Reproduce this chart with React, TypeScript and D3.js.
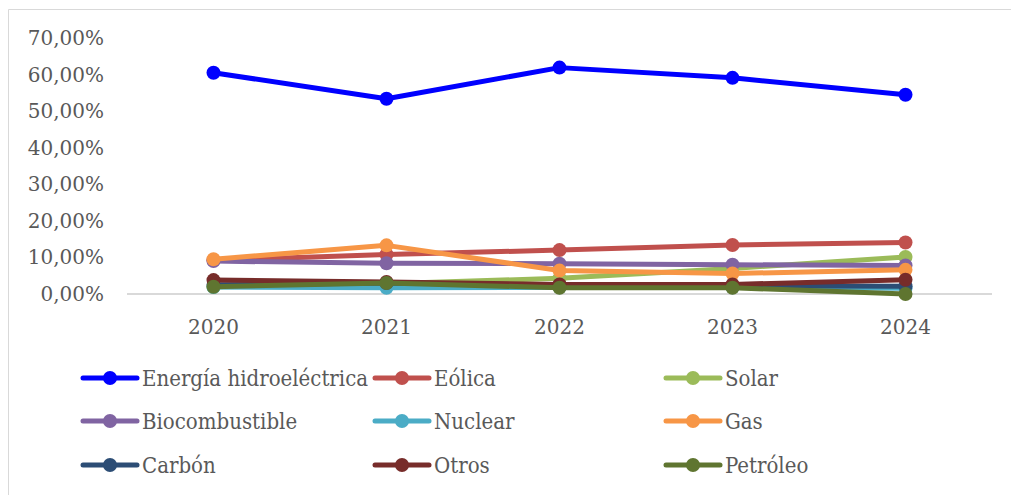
import React from 'react';
import * as d3 from 'd3';

const years = ['2020', '2021', '2022', '2023', '2024'];
const seriesNames = [
    'Energía hidroeléctrica', 'Eólica', 'Solar',
    'Biocombustible', 'Nuclear', 'Gas',
    'Carbón', 'Otros', 'Petróleo',
];
const hidro = [60.5, 53.4, 61.9, 59.1, 54.5];
const eolica = [9.2, 10.8, 12.0, 13.4, 14.1];
const solar = [1.9, 2.8, 4.3, 7.0, 10.1];
const biocombustible = [9.0, 8.4, 8.3, 8.0, 7.8];
const nuclear = [1.9, 1.7, 1.8, 1.8, 1.6];
const gas = [9.5, 13.3, 6.4, 5.6, 6.6];
const carbon = [2.5, 3.0, 2.4, 2.3, 2.1];
const otros = [3.8, 3.3, 2.6, 2.6, 3.9];
const petroleo = [2.0, 3.0, 1.7, 1.7, 0.0];
const yTicks = [0, 10, 20, 30, 40, 50, 60, 70];

const allValues = [hidro, eolica, solar, biocombustible, nuclear, gas, carbon, otros, petroleo];
const colors = ['#0000FF', '#C0504D', '#9BBB59', '#8064A2', '#4BACC6', '#F79646', '#2C4D75', '#772C2A', '#5F7530'];

const W = 1011, H = 495;
const font = '"DejaVu Serif", serif';
const textColor = '#595959';

export default function App() {
    const x = d3.scaleBand().domain(years).range([127, 992]);
    const y = d3.scaleLinear().domain([0, 70]).range([294, 38]);
    const line = d3.line<number>()
        .x((d, i) => x(years[i])! + x.bandwidth() / 2)
        .y(d => y(d));

    const legendCols = [83, 375, 666];
    const legendRows = [378, 421, 465];

    return (
        <svg width={W} height={H} style={{ position: 'absolute', left: 0, top: 0 }}>
            <rect x={0} y={0} width={W} height={H} fill="#fff" />
            <line x1={8.5} y1={9.5} x2={W} y2={9.5} stroke="#d9d9d9" />
            <line x1={8.5} y1={9.5} x2={8.5} y2={H} stroke="#d9d9d9" />
            {yTicks.map(t => (
                <text key={t} x={104} y={y(t)} dy="0.35em" textAnchor="end"
                    fontFamily={font} fontSize={20} fill={textColor}>
                    {d3.format('.2f')(t).replace('.', ',') + '%'}
                </text>
            ))}
            <line x1={127} x2={992} y1={y(0)} y2={y(0)} stroke="#d9d9d9" strokeWidth={2} />
            {years.map(yr => (
                <text key={yr} x={x(yr)! + x.bandwidth() / 2} y={334} textAnchor="middle"
                    fontFamily={font} fontSize={20} fill={textColor}>{yr}</text>
            ))}
            {allValues.map((vals, s) => (
                <g key={seriesNames[s]}>
                    <path d={line(vals)!} fill="none" stroke={colors[s]} strokeWidth={5} strokeLinejoin="round" />
                    {vals.map((v, i) => (
                        <circle key={i} cx={x(years[i])! + x.bandwidth() / 2} cy={y(v)} r={7} fill={colors[s]} />
                    ))}
                </g>
            ))}
            {seriesNames.map((name, s) => {
                const lx = legendCols[s % 3];
                const ly = legendRows[Math.floor(s / 3)];
                return (
                    <g key={name}>
                        <line x1={lx} x2={lx + 54} y1={ly} y2={ly} stroke={colors[s]} strokeWidth={5} strokeLinecap="round" />
                        <circle cx={lx + 27} cy={ly} r={7} fill={colors[s]} />
                        <text x={lx + 59} y={ly} dy="0.35em" fontFamily={font} fontSize={22}
                            fill={textColor} style={{ fontStretch: 'condensed' }}>{name}</text>
                    </g>
                );
            })}
        </svg>
    );
}
